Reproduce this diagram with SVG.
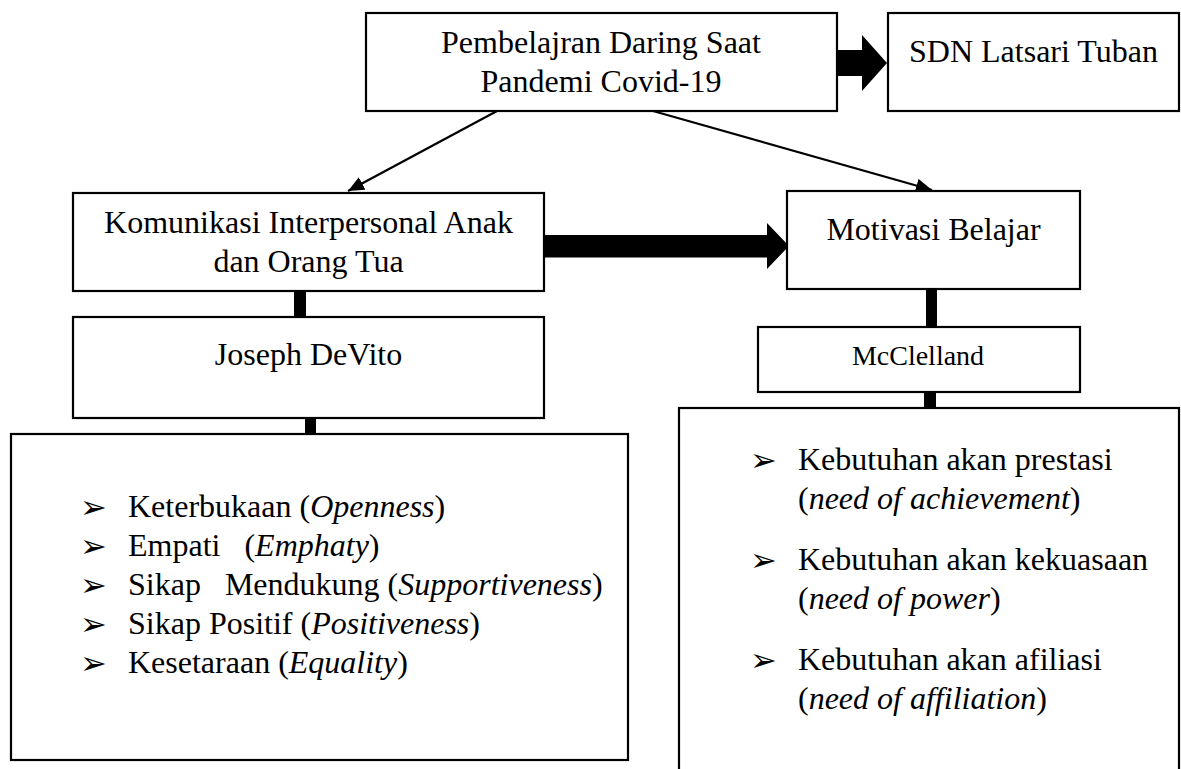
<svg xmlns="http://www.w3.org/2000/svg" width="1181" height="769" viewBox="0 0 1181 769">
<style>
.box{fill:#fff;stroke:#000;stroke-width:2.2}
.t{font-family:"Liberation Serif","Times New Roman",serif;font-size:32px;fill:#000}
.c{text-anchor:middle}
.i{font-style:italic}
.b{font-family:"DejaVu Sans",sans-serif;font-size:32px;fill:#000}
.thin{stroke:#000;stroke-width:2.2;fill:none}
.bar{fill:#000}
</style>
<defs>
<marker id="ah" markerUnits="userSpaceOnUse" markerWidth="18" markerHeight="14" refX="16" refY="7" orient="auto">
<path d="M0,0 L16,7 L0,14 z" fill="#000"/>
</marker>
</defs>
<rect width="1181" height="769" fill="#fff"/>

<g id="connectors">
<line class="thin" x1="497" y1="111" x2="348" y2="191" marker-end="url(#ah)"/>
<line class="thin" x1="653" y1="111" x2="932" y2="190" marker-end="url(#ah)"/>
<polygon class="bar" points="837,50 862,50 862,35 887,63 862,91 862,76 837,76"/>
<polygon class="bar" points="543,235 767,235 767,223 789,246 767,269 767,257.5 543,257.5"/>
<rect class="bar" x="294" y="291" width="12" height="26"/>
<rect class="bar" x="305" y="411" width="11" height="24"/>
<rect class="bar" x="926" y="289" width="11" height="38"/>
<rect class="bar" x="924" y="387" width="12" height="21"/>
</g>

<g id="pembelajaran">
<rect class="box" x="366" y="13" width="471" height="98"/>
<text class="t c" x="601" y="53">Pembelajran Daring Saat</text>
<text class="t c" x="601" y="92">Pandemi Covid-19</text>
</g>

<g id="sdn">
<rect class="box" x="888" y="13" width="291" height="98"/>
<text class="t c" x="1033.5" y="62">SDN Latsari Tuban</text>
</g>

<g id="komunikasi">
<rect class="box" x="73" y="193" width="471" height="98"/>
<text class="t c" x="308.5" y="233">Komunikasi Interpersonal Anak</text>
<text class="t c" x="308.5" y="272">dan Orang Tua</text>
</g>

<g id="motivasi">
<rect class="box" x="787" y="191" width="293" height="98"/>
<text class="t c" x="933.5" y="240">Motivasi Belajar</text>
</g>

<g id="devito">
<rect class="box" x="73" y="317" width="471" height="101"/>
<text class="t c" x="308.5" y="365">Joseph DeVito</text>
</g>

<g id="mcclelland">
<rect class="box" x="758" y="327" width="322" height="65"/>
<text class="t c" x="918" y="365" style="font-size:28px">McClelland</text>
</g>

<g id="devito-list">
<rect class="box" x="11" y="434" width="617" height="326"/>
<text class="b" x="80" y="518">➢</text>
<text class="b" x="80" y="557">➢</text>
<text class="b" x="80" y="596">➢</text>
<text class="b" x="80" y="635">➢</text>
<text class="b" x="80" y="674">➢</text>
<text class="t" x="128" y="517" xml:space="preserve">Keterbukaan (<tspan class="i">Openness</tspan>)</text>
<text class="t" x="128" y="556" xml:space="preserve">Empati   (<tspan class="i">Emphaty</tspan>)</text>
<text class="t" x="128" y="595" xml:space="preserve">Sikap   Mendukung (<tspan class="i">Supportiveness</tspan>)</text>
<text class="t" x="128" y="634" xml:space="preserve">Sikap Positif (<tspan class="i">Positiveness</tspan>)</text>
<text class="t" x="128" y="673" xml:space="preserve">Kesetaraan (<tspan class="i">Equality</tspan>)</text>
</g>

<g id="mcclelland-list">
<rect class="box" x="679" y="408" width="500" height="400"/>
<text class="b" x="750" y="471">➢</text>
<text class="b" x="750" y="571">➢</text>
<text class="b" x="750" y="671">➢</text>
<text class="t" x="798" y="470">Kebutuhan akan prestasi</text>
<text class="t" x="798" y="509">(<tspan class="i">need of achievement</tspan>)</text>
<text class="t" x="798" y="570">Kebutuhan akan kekuasaan</text>
<text class="t" x="798" y="609">(<tspan class="i">need of power</tspan>)</text>
<text class="t" x="798" y="670">Kebutuhan akan afiliasi</text>
<text class="t" x="798" y="709">(<tspan class="i">need of affiliation</tspan>)</text>
</g>
</svg>
